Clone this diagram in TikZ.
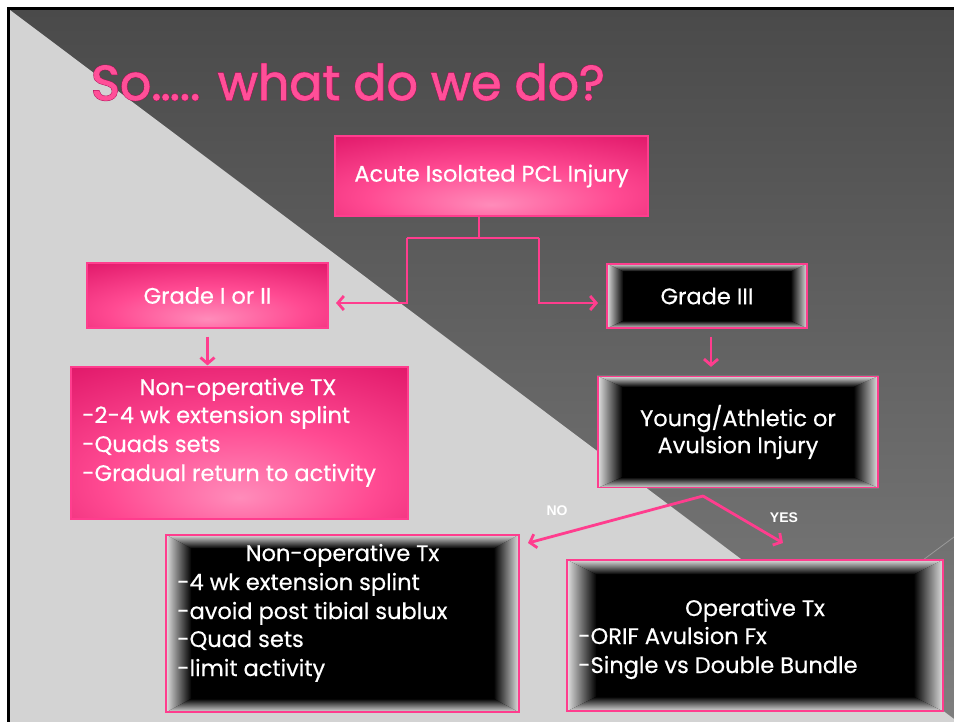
\documentclass[tikz,border=0pt]{standalone}
\usepackage{fontspec}
\setmainfont{Poppins}[FakeBold=0.5]
\newfontfamily\titlefont{Poppins}[FakeBold=1.4]
\newfontfamily\titlerim{Poppins}[FakeBold=3.4]
\newfontfamily\tagfont{Liberation Sans}
\usetikzlibrary{arrows.meta,calc}

\definecolor{bgTop}{HTML}{4A4A4A}
\definecolor{bgBot}{HTML}{7E7E7E}
\definecolor{bgLight}{HTML}{D3D3D3}
\definecolor{hotpink}{HTML}{FF3D8E}
\definecolor{glowL}{HTML}{FF8CBA}
\definecolor{glowM}{HTML}{FF4A92}
\definecolor{glowD}{HTML}{D6075C}
\definecolor{bevelL}{HTML}{E4E4E4}
\definecolor{titlePink}{HTML}{FF4F98}
\definecolor{titleEdge}{HTML}{B0105A}
\definecolor{faintLine}{HTML}{9A9A9A}

\pgfdeclarelayer{slide}
\pgfdeclarelayer{bevel}
\pgfsetlayers{slide,bevel,main}

% soft pink glow, brightest a little below the centre
\pgfdeclareradialshading{pinkglow}{\pgfpoint{0bp}{-18bp}}{color(0bp)=(glowL); color(20bp)=(glowM); color(50bp)=(glowD); color(80bp)=(glowD)}

% picture-frame bevel behind a black panel: #1 node, #2 side depth, #3 top/bottom depth
\newcommand\bevelfor[3]{%
  \begin{pgfonlayer}{bevel}
    \fill[black] (#1.north west) rectangle (#1.south east);
    \shade[left color=bevelL, right color=black] (#1.north west) -- (#1.south west) -- ($(#1.south west)+(#2,-#3)$) -- ($(#1.north west)+(#2,#3)$) -- cycle;
    \shade[left color=black, right color=bevelL] (#1.north east) -- (#1.south east) -- ($(#1.south east)+(-#2,-#3)$) -- ($(#1.north east)+(-#2,#3)$) -- cycle;
    \shade[top color=bevelL, bottom color=black] (#1.north west) -- (#1.north east) -- ($(#1.north east)+(-#2,#3)$) -- ($(#1.north west)+(#2,#3)$) -- cycle;
    \shade[top color=black, bottom color=bevelL] (#1.south west) -- (#1.south east) -- ($(#1.south east)+(-#2,-#3)$) -- ($(#1.south west)+(#2,-#3)$) -- cycle;
  \end{pgfonlayer}%
}

% title text: a heavier dark copy underneath gives the rim
\newcommand\rimmed[1]{\rlap{\titlerim\color{titleEdge}#1}{\titlefont\color{titlePink}#1}}

\begin{document}
\begin{tikzpicture}[x=1pt,y=-1pt,
  boxtext/.style={text=white, font=\fontsize{22.5}{27}\selectfont},
  pinkbox/.style={boxtext, draw=hotpink, line width=1.2pt, shade, shading=pinkglow, inner sep=0pt},
  panel/.style={boxtext, draw=hotpink, line width=1.2pt, inner sep=0pt},
  line/.style={boxtext, inner sep=0pt, anchor=base west},
  head/.style={boxtext, inner sep=0pt, anchor=base},
  conn/.style={draw=hotpink, line width=2.8pt},
  arr/.style={conn, -{Straight Barb[length=6pt,width=14pt]}},
  tag/.style={text=white, font=\tagfont\bfseries\fontsize{14}{16}\selectfont, inner sep=0pt},
  titletext/.style={font=\fontsize{49}{53}\selectfont, inner sep=0pt, anchor=base west}
]
\useasboundingbox (0,0) rectangle (954,722);

% slide background
\begin{pgfonlayer}{slide}
  \fill[white] (0,0) rectangle (954,722);
  \shade[top color=bgTop, bottom color=bgBot] (10,10) rectangle (954,722);
  \fill[bgLight] (10,10) -- (958,722) -- (10,722) -- cycle;
  \draw[faintLine, line width=0.8pt] (923,560) -- (954,537);
  \fill[black] (7,7) rectangle (954,10);
  \fill[black] (7,7) rectangle (10,722);
\end{pgfonlayer}

% title
\node[titletext] (title) at (91,100) {\rimmed{So….. what do we do?}};

% boxes
\node[pinkbox, minimum width=313pt, minimum height=80pt] (acute) at (491.5,176) {Acute Isolated PCL Injury};
\node[pinkbox, minimum width=241pt, minimum height=65pt] (g12) at (207.5,295.5) {Grade I or II};
\node[pinkbox, minimum width=337pt, minimum height=152pt] (non1) at (239.5,443) {};
\node[panel, minimum width=200pt, minimum height=64pt] (g3) at (707,296) {Grade III};
\node[panel, minimum width=280pt, minimum height=111pt, align=center] (young) at (738,432) {Young/Athletic or\\Avulsion Injury};
\node[panel, minimum width=353pt, minimum height=177pt] (non2) at (342.5,623.5) {};
\node[panel, minimum width=376pt, minimum height=151pt] (oper) at (755,635.5) {};
\bevelfor{g3}{17}{8}
\bevelfor{young}{25}{11}
\bevelfor{non2}{26}{14}
\bevelfor{oper}{30}{15}

% box contents
\node[head] (non1-h) at (238,395) {Non-operative TX};
\node[line] (non1-a) at (82,423) {-2-4 wk extension splint};
\node[line] (non1-b) at (82,452) {-Quads sets};
\node[line] (non1-c) at (82,481) {-Gradual return to activity};

\node[head] (non2-h) at (342.5,561) {Non-operative Tx};
\node[line] (non2-a) at (177,590) {-4 wk extension splint};
\node[line] (non2-b) at (177,619) {-avoid post tibial sublux};
\node[line] (non2-c) at (177,647) {-Quad sets};
\node[line] (non2-d) at (177,676) {-limit activity};

\node[head] (oper-h) at (755,616) {Operative Tx};
\node[line] (oper-a) at (578,644) {-ORIF Avulsion Fx};
\node[line] (oper-b) at (578,673) {-Single vs Double Bundle};

% connectors
\coordinate (split) at (479,238);
\coordinate (left-turn) at (407,238);
\coordinate (right-turn) at (539,238);
\coordinate (left-tip) at (336,303);
\coordinate (right-tip) at (598,303);
\draw[conn] (acute.south -| split) -- (split);
\draw[conn] (left-turn) -- (right-turn);
\draw[arr] (left-turn) |- (left-tip);
\draw[arr] (right-turn) |- (right-tip);

\draw[arr, shorten <=8pt, shorten >=1pt] (g12.south) -- (g12.south |- non1.north);
\draw[arr, shorten <=8pt, shorten >=9pt] (g3.south -| 711,0) -- (young.north -| 711,0);

\coordinate (fork) at (703,496);
\coordinate (no-tip) at (528,543);
\coordinate (yes-tip) at (783,543);
\draw[arr, line cap=round] (fork) -- (no-tip);
\draw[arr, line cap=round] (fork) -- (yes-tip);
\node[tag] (no) at (557,511) {NO};
\node[tag] (yes) at (784,518) {YES};
\end{tikzpicture}
\end{document}
